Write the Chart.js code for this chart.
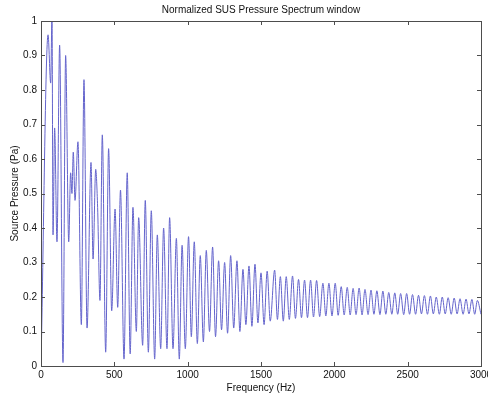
<!DOCTYPE html>
<html lang="en">
<head>
    <meta charset="UTF-8">
    <title>Normalized SUS Pressure Spectrum window</title>
    <script src="https://cdn.jsdelivr.net/npm/chart.js"></script>
    <style>
        html, body { margin: 0; padding: 0; background: #fff; }
        #wrap { width: 488px; height: 395px; }
    </style>
</head>
<body>
    <div id="wrap"><canvas id="spectrumChart"></canvas></div>

    <script>
        // peaks and troughs (Hz, Pa)
        const freqHz = [
            0, 48, 66, 75, 82, 93, 109, 127, 150, 168,
            189, 202, 211, 220, 232, 252, 275, 293, 314, 341,
            355, 373, 386, 402, 418, 441, 461, 482, 505, 523,
            542, 566, 588, 608, 627, 650, 666, 693, 711, 732,
            752, 775, 793, 816, 836, 859, 877, 900, 923, 943,
            962, 984, 1006, 1025, 1045, 1066, 1086, 1107, 1127, 1149,
            1170, 1190, 1211, 1231, 1252, 1272, 1293, 1314, 1336, 1356,
            1377, 1397, 1418, 1438, 1459, 1479, 1500, 1521, 1542, 1563,
            1593, 1612, 1632, 1652, 1672, 1693, 1715, 1735, 1756, 1776,
            1797, 1817, 1838, 1858, 1879, 1900, 1922, 1942, 1963, 1984,
            2006, 2026, 2047, 2067, 2088, 2108, 2128, 2148, 2169, 2189,
            2209, 2230, 2250, 2270, 2290, 2311, 2331, 2351, 2371, 2392,
            2412, 2432, 2452, 2473, 2493, 2513, 2533, 2554, 2574, 2594,
            2614, 2635, 2655, 2675, 2695, 2716, 2736, 2756, 2776, 2797,
            2817, 2837, 2857, 2878, 2898, 2918, 2938, 2957, 2975, 3000
        ];
        const pressurePa = [
            0, 0.96, 0.82, 1.02, 0.38, 0.69, 0.36, 0.93, 0.01, 0.90,
            0.36, 0.56, 0.50, 0.62, 0.48, 0.65, 0.12, 0.83, 0.11, 0.59,
            0.31, 0.57, 0.46, 0.19, 0.67, 0.04, 0.63, 0.16, 0.455, 0.17,
            0.51, 0.02, 0.56, 0.035, 0.46, 0.10, 0.43, 0.06, 0.48, 0.04,
            0.45, 0.02, 0.38, 0.05, 0.40, 0.05, 0.43, 0.05, 0.37, 0.02,
            0.35, 0.05, 0.375, 0.085, 0.36, 0.065, 0.32, 0.07, 0.335, 0.10,
            0.345, 0.085, 0.305, 0.105, 0.30, 0.095, 0.32, 0.11, 0.305, 0.10,
            0.28, 0.12, 0.29, 0.115, 0.295, 0.125, 0.27, 0.12, 0.275, 0.13,
            0.278, 0.135, 0.259, 0.13, 0.259, 0.135, 0.261, 0.138, 0.251, 0.14,
            0.249, 0.14, 0.249, 0.142, 0.248, 0.143, 0.24, 0.145, 0.24, 0.145,
            0.24, 0.147, 0.23, 0.148, 0.228, 0.148, 0.225, 0.149, 0.226, 0.148,
            0.222, 0.149, 0.22, 0.15, 0.218, 0.149, 0.217, 0.15, 0.213, 0.15,
            0.212, 0.15, 0.21, 0.149, 0.21, 0.15, 0.207, 0.15, 0.205, 0.151,
            0.204, 0.15, 0.203, 0.151, 0.20, 0.15, 0.20, 0.151, 0.198, 0.15,
            0.197, 0.151, 0.195, 0.15, 0.194, 0.151, 0.193, 0.15, 0.19, 0.15
        ];
        const xTickValues = [0, 500, 1000, 1500, 2000, 2500, 3000];
        const yTickValues = [0, 0.1, 0.2, 0.3, 0.4, 0.5, 0.6, 0.7, 0.8, 0.9, 1];

        const points = freqHz.map((f, i) => ({ x: f, y: pressurePa[i] }));
        const axisFont = { family: "'Liberation Sans', Arial, sans-serif", size: 10 };
        const boxColor = "#4d4d4d";

        // MATLAB style frame: full box with ticks pointing inwards
        const boxPlugin = {
            id: "boxTicks",
            afterDraw(chart) {
                const { ctx, chartArea: a, scales } = chart;
                ctx.save();
                ctx.strokeStyle = boxColor;
                ctx.lineWidth = 1;
                ctx.strokeRect(Math.round(a.left) + 0.5, Math.round(a.top) + 0.5,
                    Math.round(a.right - a.left), Math.round(a.bottom - a.top));
                ctx.beginPath();
                xTickValues.forEach(v => {
                    const px = Math.round(scales.x.getPixelForValue(v)) + 0.5;
                    ctx.moveTo(px, a.bottom); ctx.lineTo(px, a.bottom - 4);
                    ctx.moveTo(px, a.top); ctx.lineTo(px, a.top + 4);
                });
                yTickValues.forEach(v => {
                    const py = Math.round(scales.y.getPixelForValue(v)) + 0.5;
                    ctx.moveTo(a.left, py); ctx.lineTo(a.left + 4, py);
                    ctx.moveTo(a.right, py); ctx.lineTo(a.right - 4, py);
                });
                ctx.stroke();
                ctx.restore();
            }
        };

        new Chart(document.getElementById("spectrumChart"), {
            type: "line",
            data: {
                datasets: [{
                    data: points,
                    borderColor: "#6464cc",
                    borderWidth: 1,
                    pointRadius: 0,
                    cubicInterpolationMode: "monotone",
                    fill: false
                }]
            },
            options: {
                responsive: true,
                maintainAspectRatio: false,
                animation: false,
                layout: { padding: { right: 7 } },
                plugins: {
                    legend: { display: false },
                    tooltip: { enabled: false },
                    title: {
                        display: true,
                        fullSize: false,
                        text: "Normalized SUS Pressure Spectrum window",
                        color: "#111",
                        font: { family: axisFont.family, size: 10, weight: "normal" },
                        padding: { top: 4, bottom: 5 }
                    }
                },
                scales: {
                    x: {
                        type: "linear",
                        min: 0,
                        max: 3000,
                        afterBuildTicks: s => { s.ticks = xTickValues.map(v => ({ value: v })); },
                        afterFit: s => { s.height = 29; s.paddingLeft = 0; s.paddingRight = 0; },
                        grid: { display: false, drawTicks: false },
                        border: { display: false },
                        ticks: {
                            color: "#111",
                            font: axisFont,
                            padding: 3,
                            maxRotation: 0,
                            autoSkip: false,
                            callback: v => String(v)
                        },
                        title: { display: true, text: "Frequency (Hz)", color: "#111", font: axisFont, padding: { top: 0, bottom: 1 } }
                    },
                    y: {
                        min: 0,
                        max: 1,
                        afterBuildTicks: s => { s.ticks = yTickValues.map(v => ({ value: v })); },
                        afterFit: s => { s.width = 41; s.paddingTop = 0; s.paddingBottom = 0; },
                        grid: { display: false, drawTicks: false },
                        border: { display: false },
                        ticks: {
                            color: "#111",
                            font: axisFont,
                            padding: 4,
                            callback: v => String(Math.round(v * 10) / 10)
                        },
                        title: { display: true, text: "Source Pressure (Pa)", color: "#111", font: axisFont, padding: { top: 9, bottom: 0 } }
                    }
                }
            },
            plugins: [boxPlugin]
        });
    </script>
</body>
</html>
